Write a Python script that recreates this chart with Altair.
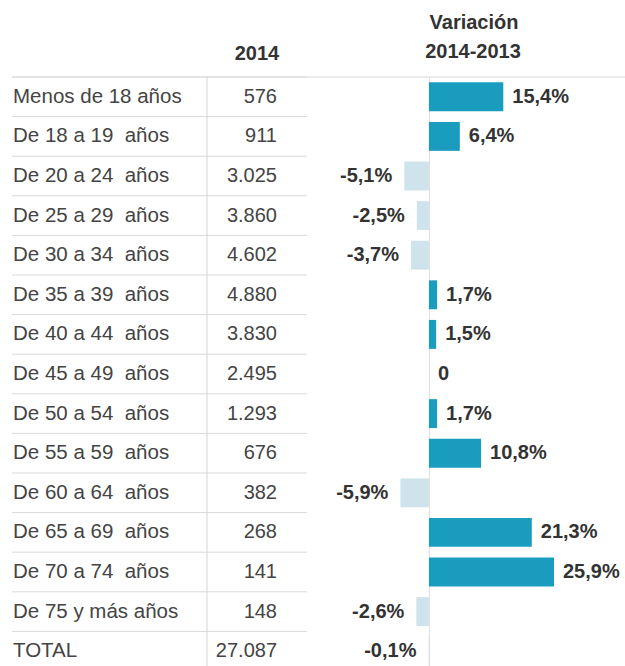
import altair as alt
import pandas as pd

NB = "\u00a0"
categories = [
    "Menos de 18 años",
    "De 18 a 19 " + NB + "años",
    "De 20 a 24 " + NB + "años",
    "De 25 a 29 " + NB + "años",
    "De 30 a 34 " + NB + "años",
    "De 35 a 39 " + NB + "años",
    "De 40 a 44 " + NB + "años",
    "De 45 a 49 " + NB + "años",
    "De 50 a 54 " + NB + "años",
    "De 55 a 59 " + NB + "años",
    "De 60 a 64 " + NB + "años",
    "De 65 a 69 " + NB + "años",
    "De 70 a 74 " + NB + "años",
    "De 75 y más años",
    "TOTAL",
]
values_2014 = [576, 911, 3025, 3860, 4602, 4880, 3830, 2495, 1293, 676, 382, 268, 141, 148, 27087]
variation = [15.4, 6.4, -5.1, -2.5, -3.7, 1.7, 1.5, 0.0, 1.7, 10.8, -5.9, 21.3, 25.9, -2.6, -0.1]

header_cols = ["2014", "Variación", "2014-2013"]


def fmt_int(v):
    return f"{v:,}".replace(",", ".")


def fmt_pct(v):
    if v == 0:
        return "0"
    return f"{v:.1f}".replace(".", ",") + "%"


df = pd.DataFrame({
    "cat": categories,
    "v2014": values_2014,
    "v2014_txt": [fmt_int(v) for v in values_2014],
    "var": variation,
    "var_txt": [fmt_pct(v) for v in variation],
    "sign": ["pos" if v >= 0 else "neg" for v in variation],
})

FONT = "Liberation Sans"
ROW = 39.6
H = 594

yscale = alt.Scale(domain=categories, paddingInner=0.27, paddingOuter=0.135)
yenc = alt.Y("cat:N", sort=categories, scale=yscale, axis=None)
xscale = alt.Scale(domain=[-88.8, 40.6], nice=False, zero=False)
xaxis = alt.Axis(values=[0], grid=True, gridColor="#e0e0e0", labels=False, ticks=False,
                 domain=False, title=None)

base = alt.Chart(df)

row_lines = base.mark_rule(color="#d9d9d9", strokeWidth=1, yOffset=-ROW / 2).encode(
    y=yenc, x=alt.value(12), x2=alt.value(307),
)

one = alt.Chart(pd.DataFrame({"a": [0]}))
top_line = one.mark_rule(color="#d9d9d9", strokeWidth=1).encode(
    y=alt.value(0), x=alt.value(12), x2=alt.value(625))
vline = one.mark_rule(color="#d4d4d4", strokeWidth=1).encode(
    x=alt.value(207), y=alt.value(0), y2=alt.value(H))

bars = base.mark_bar().encode(
    x=alt.X("var:Q", scale=xscale, axis=xaxis),
    y=yenc,
    color=alt.Color("sign:N", scale=alt.Scale(domain=["pos", "neg"], range=["#1a9cbf", "#cfe3ec"]),
                    legend=None),
)

labels = base.mark_text(align="left", baseline="middle", font=FONT, fontSize=20.5,
                        color="#444444").encode(
    x=alt.value(13), y=yenc, text="cat:N")

vals = base.mark_text(align="right", baseline="middle", font=FONT, fontSize=20,
                      color="#444444").encode(
    x=alt.value(277), y=yenc, text="v2014_txt:N")

pos_txt = base.transform_filter("datum.var >= 0").mark_text(
    align="left", baseline="middle", font=FONT, fontSize=20, fontWeight="bold",
    color="#333333", dx=9).encode(
    x=alt.X("var:Q", scale=xscale), y=yenc, text="var_txt:N")

neg_txt = base.transform_filter("datum.var < 0").mark_text(
    align="right", baseline="middle", font=FONT, fontSize=20, fontWeight="bold",
    color="#333333", dx=-12).encode(
    x=alt.X("var:Q", scale=xscale), y=yenc, text="var_txt:N")

hdr_pos = [(257, -23), (474, -54), (473, -25)]
header_layers = []
for t, (px, py) in zip(header_cols, hdr_pos):
    header_layers.append(
        alt.Chart(pd.DataFrame({"t": [t]})).mark_text(
            align="center", baseline="middle", font=FONT, fontSize=20, fontWeight="bold",
            color="#333333").encode(x=alt.value(px), y=alt.value(py), text="t:N")
    )

chart = alt.layer(
    bars, row_lines, top_line, vline, labels, vals, pos_txt, neg_txt, *header_layers
).properties(
    width=625, height=H,
    autosize=alt.AutoSizeParams(type="none"),
    padding={"left": 0, "top": 77, "right": 0, "bottom": 0},
).configure(background="white").configure_view(stroke=None)

chart.save("out.html", embed_options={"renderer": "svg", "actions": False})
